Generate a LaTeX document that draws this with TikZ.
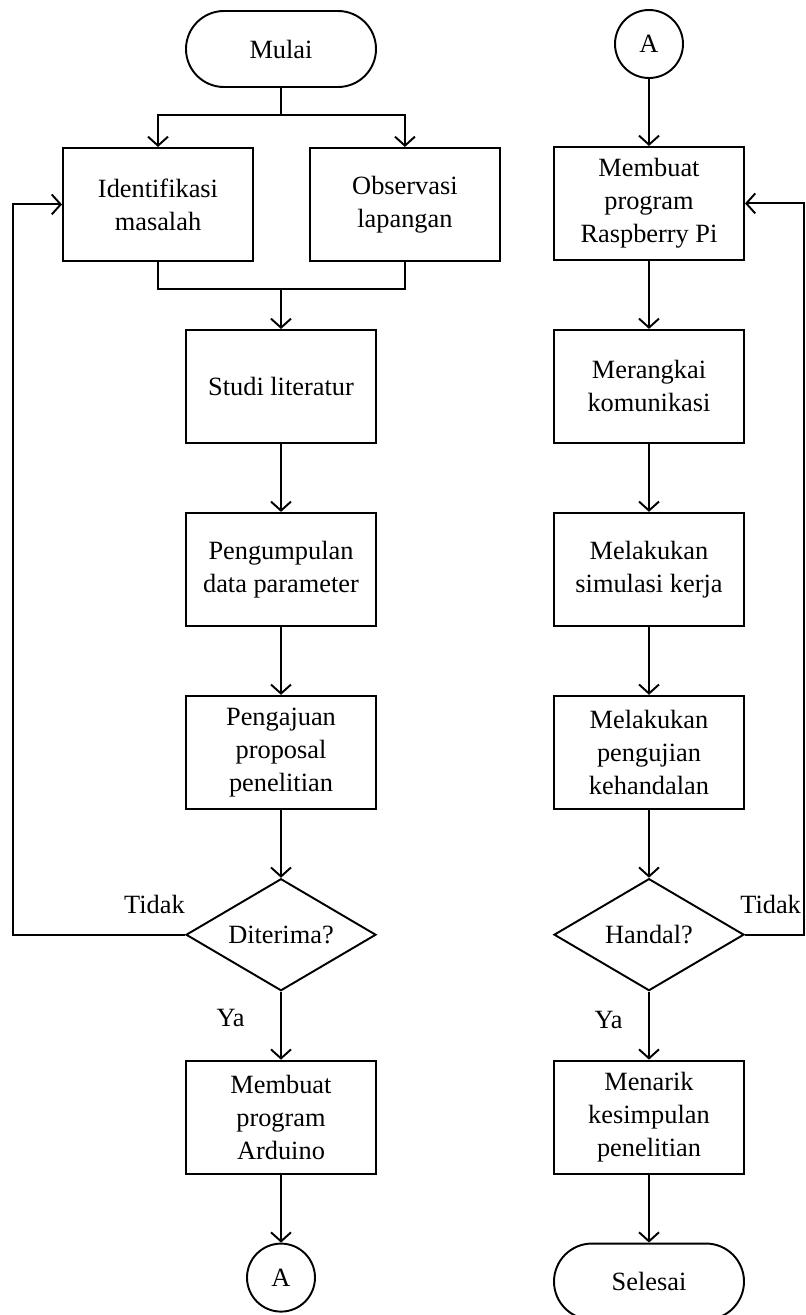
\documentclass[tikz,border=0pt]{standalone}
\usepackage{fontspec}
\setmainfont{Liberation Serif}
\usetikzlibrary{arrows.meta}
\usetikzlibrary{positioning,shapes,calc}
\tikzset{process/.style={rectangle,draw,line width=1.1pt,minimum width=3.8cm,minimum height=2.26cm,inner sep=2pt},
		terminal/.style={rectangle,rounded corners=0.76cm,draw,line width=1.1pt,minimum width=3.8cm,minimum height=1.52cm},
		decision/.style={diamond,aspect=1.7,draw,line width=1.1pt,minimum width=3.8cm,minimum height=2.24cm,inner sep=0pt},
		connector/.style={circle,draw,line width=1.1pt,minimum size=1.36cm,inner sep=0pt},
		flow/.style={line width=1.1pt},
		Dedge/.style={-{Straight Barb[length=1.8mm,width=4mm]},line width=1.1pt},
		edgeLabel/.style={inner sep=0pt},
		every node/.style={align=center,font=\fontsize{15}{18.8}\selectfont}}

\begin{document}
\begin{tikzpicture}[node distance=1.36cm]
				\useasboundingbox (0,0) rectangle (16.1,-26.3);
				%left column
				\node [terminal] (mulai) at (5.62,-0.98) {Mulai};
				\node [process] (idf) [below=1.18cm of mulai, xshift=-2.46cm] {Identifikasi\\masalah};
				\node [process] (obs) [right=1.1cm of idf] {Observasi\\lapangan};
				\node [process] (studi) [below=4.82cm of mulai] {Studi literatur};
				\node [process] (kumpul) [below=of studi] {Pengumpulan\\data parameter};
				\node [process] (ajuan) [below=of kumpul] {Pengajuan\\proposal\\penelitian};
				\node [decision] (diterima) [below=of ajuan] {Diterima?};
				\node [process] (arduino) [below=of diterima] {Membuat\\program\\Arduino};
				\node [connector] (connA1) [below=of arduino] {A};
				%right column
				\node [connector] (connA2) at (12.98,-0.88) {A};
				\node [process] (rasp) [below=1.34cm of connA2] {Membuat\\program\\Raspberry Pi};
				\node [process] (rangkai) [below=of rasp] {Merangkai\\komunikasi};
				\node [process] (simulasi) [below=of rangkai] {Melakukan\\simulasi kerja};
				\node [process] (uji) [below=of simulasi] {Melakukan\\pengujian\\kehandalan};
				\node [decision] (handal) [below=of uji] {Handal?};
				\node [process] (simpul) [below=of handal] {Menarik\\kesimpulan\\penelitian};
				\node [terminal] (selesai) [below=of simpul] {Selesai};
				%edges
				\coordinate [below=0.54cm of mulai] (split);
				\draw [flow] (mulai) -- (split);
				\draw [Dedge] (split) -| (idf.north);
				\draw [Dedge] (split) -| (obs.north);
				\draw [flow] (idf.south) -- ++(0,-0.54) coordinate (merge) -| (obs.south);
				\draw [Dedge] (merge -| studi.north) -- (studi.north);
				\draw [Dedge] (studi) -- (kumpul);
				\draw [Dedge] (kumpul) -- (ajuan);
				\draw [Dedge] (ajuan) -- (diterima);
				\draw [Dedge] (diterima) -- (arduino);
				\draw [Dedge] (arduino) -- (connA1);
				\draw [Dedge] (diterima.west) -- ++(-3.44,0) |- (idf.west);
				\draw [Dedge] (connA2) -- (rasp);
				\draw [Dedge] (rasp) -- (rangkai);
				\draw [Dedge] (rangkai) -- (simulasi);
				\draw [Dedge] (simulasi) -- (uji);
				\draw [Dedge] (uji) -- (handal);
				\draw [Dedge] (handal) -- (simpul);
				\draw [Dedge] (simpul) -- (selesai);
				\draw [Dedge] (handal.east) -- ++(1.18,0) |- (rasp.east);
				%labels
				\node [edgeLabel, anchor=base east] (tidakL) at ($(diterima.west)+(0,0.42)$) {Tidak};
				\node [edgeLabel, anchor=base east] (yaL) at ($(diterima.south)+(-0.72,-0.7)$) {Ya};
				\node [edgeLabel, anchor=base west] (tidakR) at ($(handal.east)+(-0.1,0.42)$) {Tidak};
				\node [edgeLabel, anchor=base east] (yaR) at ($(handal.south)+(-0.52,-0.74)$) {Ya};
			\end{tikzpicture}
\end{document}
